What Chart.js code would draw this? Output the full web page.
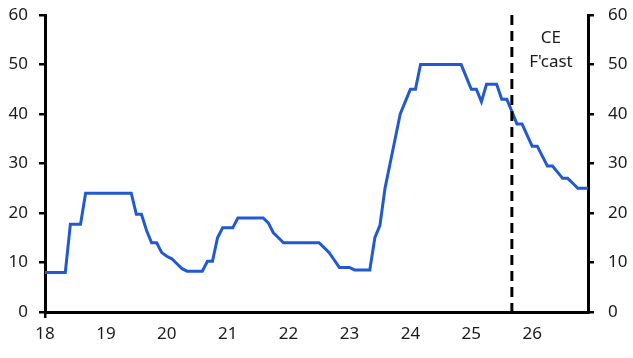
<!DOCTYPE html>
<html>
<head>
<meta charset="utf-8">
<script src="https://cdn.jsdelivr.net/npm/chart.js@4/dist/chart.umd.min.js"></script>
<style>
  html, body { margin: 0; padding: 0; background: #ffffff; }
  #wrap { width: 633px; height: 358px; position: relative; }
</style>
</head>
<body>
<div id="wrap"><canvas id="c" width="633" height="358"></canvas></div>
<script>
// ---- Data (monthly, Jan 2018 – Dec 2026) ----
const years = ["18", "19", "20", "21", "22", "23", "24", "25", "26"];
const months = ["Jan", "Feb", "Mar", "Apr", "May", "Jun", "Jul", "Aug", "Sep", "Oct", "Nov", "Dec"];
const categories = [];
years.forEach(y => months.forEach(m => categories.push(m + "-" + y)));

const values2018 = [8, 8, 8, 8, 8, 17.75, 17.75, 17.75, 24, 24, 24, 24];
const values2019 = [24, 24, 24, 24, 24, 24, 19.75, 19.75, 16.5, 14, 14, 12];
const values2020 = [11.25, 10.75, 9.75, 8.75, 8.25, 8.25, 8.25, 8.25, 10.25, 10.25, 15, 17];
const values2021 = [17, 17, 19, 19, 19, 19, 19, 19, 18, 16, 15, 14];
const values2022 = [14, 14, 14, 14, 14, 14, 14, 13, 12, 10.5, 9, 9];
const values2023 = [9, 8.5, 8.5, 8.5, 8.5, 15, 17.5, 25, 30, 35, 40, 42.5];
const values2024 = [45, 45, 50, 50, 50, 50, 50, 50, 50, 50, 50, 47.5];
const values2025 = [45, 45, 42.5, 46, 46, 46, 43, 43, 40.5, 38, 38, 35.75];
const values2026 = [33.5, 33.5, 31.5, 29.5, 29.5, 28.25, 27, 27, 26, 25, 25, 25];
const seriesValues = [].concat(values2018, values2019, values2020, values2021, values2022,
                               values2023, values2024, values2025, values2026);

const yTickValues = [0, 10, 20, 30, 40, 50, 60];
const forecastStart = "Sep-25";
const forecastLabel = ["CE", "F'cast"];

// ---- Styling ----
const FONT = { family: "'Noto Sans', 'Open Sans', sans-serif", size: 17 };
const TEXT = "#1a1a1a";
const LINE = "#2159d1";

const forecastPlugin = {
  id: "forecast",
  afterDatasetsDraw(chart) {
    const { ctx, chartArea, scales } = chart;
    const x = scales.x.getPixelForValue(categories.indexOf(forecastStart));
    ctx.save();
    ctx.strokeStyle = "#000";
    ctx.lineWidth = 3;
    ctx.setLineDash([10, 6]);
    ctx.beginPath();
    ctx.moveTo(x, chartArea.top);
    ctx.lineTo(x, chartArea.bottom);
    ctx.stroke();
    ctx.setLineDash([]);
    ctx.fillStyle = TEXT;
    ctx.font = FONT.size + "px " + FONT.family;
    ctx.textAlign = "center";
    ctx.textBaseline = "middle";
    const tx = (x + chartArea.right) / 2 + 1;
    ctx.fillText(forecastLabel[0], tx, 38);
    ctx.fillText(forecastLabel[1], tx, 62);
    ctx.restore();
  }
};

const yTicks = (pad) => ({
  min: 0, max: 60,
  afterBuildTicks: (s) => { s.ticks = yTickValues.map(v => ({ value: v })); },
  ticks: { color: TEXT, font: FONT, padding: pad },
  grid: { drawOnChartArea: false, color: "#000", tickColor: "#000", tickLength: 6, lineWidth: 2.5, tickWidth: 2.5 },
  border: { color: "#000", width: 3 }
});

const fitY = (s) => { s.width = 45; s.paddingTop = 0; s.paddingBottom = 0; };
const leftY = yTicks(11);
leftY.position = "left";
leftY.afterFit = fitY;
const rightY = yTicks(14);
rightY.position = "right";
rightY.afterFit = fitY;

new Chart(document.getElementById("c"), {
  type: "line",
  data: {
    labels: categories,
    datasets: [{
      data: seriesValues,
      borderColor: LINE,
      borderWidth: 3,
      pointRadius: 0,
      tension: 0,
      yAxisID: "y"
    }]
  },
  options: {
    responsive: false,
    devicePixelRatio: 1,
    animation: false,
    layout: { padding: { top: 15, left: 0, right: 0, bottom: 0 } },
    plugins: { legend: { display: false }, tooltip: { enabled: false } },
    scales: {
      x: {
        offset: false,
        ticks: {
          autoSkip: false, maxRotation: 0, color: TEXT, font: FONT, padding: 6,
          callback: (v, i) => (i % 12 === 0 ? years[i / 12] : null)
        },
        grid: {
          drawOnChartArea: false,
          tickLength: 6,
          lineWidth: 2.5,
          color: (c) => (c.index % 12 === 0 ? "#000" : "rgba(0,0,0,0)"),
          tickColor: (c) => (c.index % 12 === 0 ? "#000" : "rgba(0,0,0,0)")
        },
        border: { color: "#000", width: 3 },
        afterFit: (s) => { s.height = 46; s.paddingLeft = 0; s.paddingRight = 0; }
      },
      y: leftY,
      y2: rightY
    }
  },
  plugins: [forecastPlugin]
});
</script>
</body>
</html>
